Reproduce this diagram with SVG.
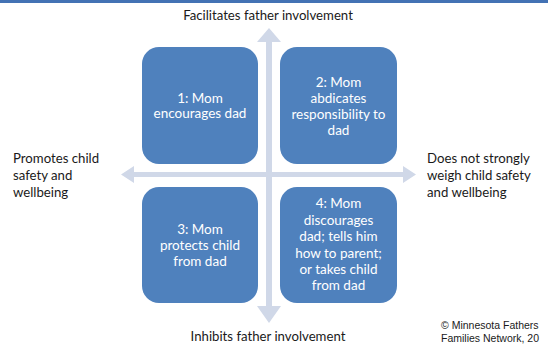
<svg xmlns="http://www.w3.org/2000/svg" width="548" height="344" viewBox="0 0 548 344">
<style>
.box{fill:#4f81bd;}
.bt{font-family:Lato,"Liberation Sans",sans-serif;font-size:13.5px;fill:#ffffff;text-anchor:middle;}
.lb{font-family:Lato,"Liberation Sans",sans-serif;font-size:13.2px;fill:#1a1a1a;}
.ax{fill:#d0d8e8;}
.cp{font-family:"Liberation Sans",Arial,sans-serif;font-size:10.5px;fill:#1a1a1a;}
</style>
<rect x="0" y="0" width="548" height="344" fill="#ffffff"/>
<rect x="0" y="0" width="548" height="3" fill="#4372b4"/>
<g id="connectors">
<polygon class="ax" points="266,42 257,42 269,28 281,42 272,42 272,306 281,306 269,323 257,306 266,306"/>
<polygon class="ax" points="134,172 134,166 121,174.5 134,183 134,177 403,177 403,183 416,174.5 403,166 403,172"/>
</g>
<g id="node1">
<rect class="box" x="142" y="47" width="116" height="117" rx="17"/>
<text class="bt" x="200" y="103">1: Mom</text>
<text class="bt" x="200" y="118">encourages dad</text>
</g>
<g id="node2">
<rect class="box" x="280" y="47" width="117" height="117" rx="17"/>
<text class="bt" x="338.5" y="87">2: Mom</text>
<text class="bt" x="338.5" y="103">abdicates</text>
<text class="bt" x="338.5" y="119">responsibility to</text>
<text class="bt" x="338.5" y="135">dad</text>
</g>
<g id="node3">
<rect class="box" x="142" y="187" width="116" height="116" rx="17"/>
<text class="bt" x="200" y="234">3: Mom</text>
<text class="bt" x="200" y="250">protects child</text>
<text class="bt" x="200" y="266">from dad</text>
</g>
<g id="node4">
<rect class="box" x="280" y="187" width="117" height="116" rx="17"/>
<text class="bt" x="338.5" y="208">4: Mom</text>
<text class="bt" x="338.5" y="224.5">discourages</text>
<text class="bt" x="338.5" y="241">dad; tells him</text>
<text class="bt" x="338.5" y="257.5">how to parent;</text>
<text class="bt" x="338.5" y="274">or takes child</text>
<text class="bt" x="338.5" y="290">from dad</text>
</g>
<g id="labels">
<text class="lb" x="268" y="20" text-anchor="middle">Facilitates father involvement</text>
<text class="lb" x="268" y="341" text-anchor="middle">Inhibits father involvement</text>
<text class="lb" x="13" y="163">Promotes child</text>
<text class="lb" x="13" y="180">safety and</text>
<text class="lb" x="13" y="197">wellbeing</text>
<text class="lb" x="427" y="163">Does not strongly</text>
<text class="lb" x="427" y="180">weigh child safety</text>
<text class="lb" x="427" y="197">and wellbeing</text>
<text class="cp" x="441" y="329">© Minnesota Fathers</text>
<text class="cp" x="441" y="342">Families Network, 20</text>
</g>
</svg>
